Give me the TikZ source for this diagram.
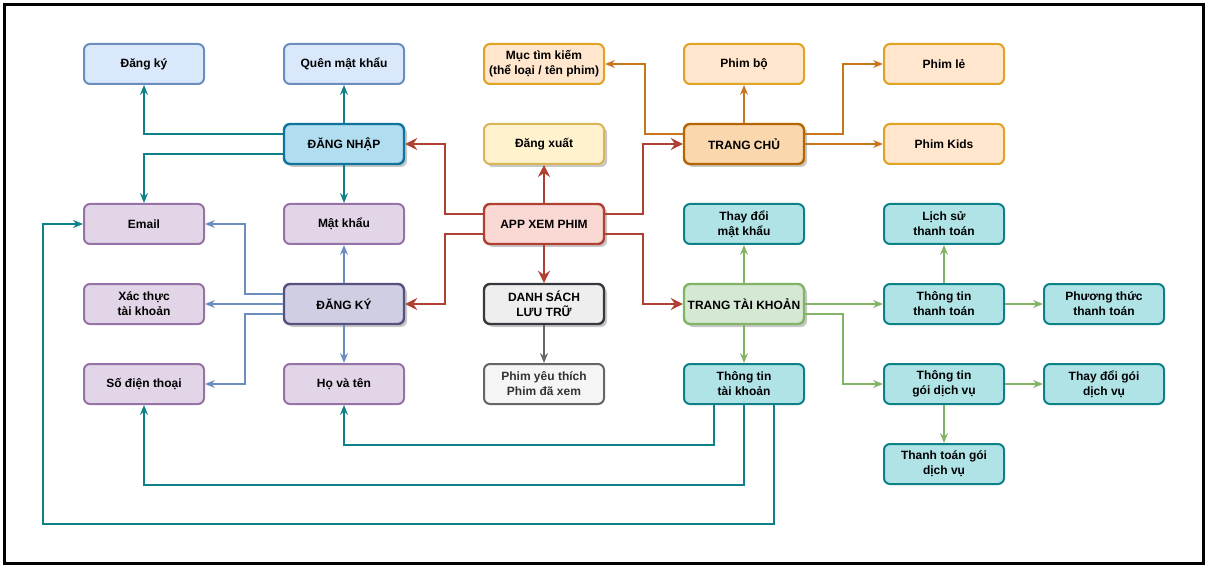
\documentclass[tikz,border=0pt]{standalone}
\usepackage{fontspec}
\setmainfont{Liberation Sans}
\usetikzlibrary{arrows.meta,calc,shadows}

% node palette
\definecolor{blueF}{HTML}{DAE8FC}\definecolor{blueS}{HTML}{6C8EBF}
\definecolor{orgF}{HTML}{FFE6CC}\definecolor{orgS}{HTML}{E0A422}
\definecolor{loginF}{HTML}{B1DDF0}\definecolor{loginS}{HTML}{10739E}
\definecolor{yelF}{HTML}{FFF2CC}\definecolor{yelS}{HTML}{D6B656}
\definecolor{homeF}{HTML}{FAD7AC}\definecolor{homeS}{HTML}{B46504}
\definecolor{purF}{HTML}{E1D5E7}\definecolor{purS}{HTML}{9673A6}
\definecolor{appF}{HTML}{FAD9D5}\definecolor{appS}{HTML}{AE4132}
\definecolor{tealF}{HTML}{B0E3E6}\definecolor{tealS}{HTML}{0E8088}
\definecolor{regF}{HTML}{D0CEE2}\definecolor{regS}{HTML}{56517E}
\definecolor{listF}{HTML}{EEEEEE}\definecolor{listS}{HTML}{36393D}
\definecolor{accF}{HTML}{D5E8D4}\definecolor{accS}{HTML}{82B366}
\definecolor{favF}{HTML}{F5F5F5}\definecolor{favS}{HTML}{666666}
\definecolor{favT}{HTML}{333333}
% connector palette
\definecolor{eTeal}{HTML}{0E8088}
\definecolor{eBlue}{HTML}{6C8EBF}
\definecolor{eGreen}{HTML}{82B366}
\definecolor{eOrange}{HTML}{C8761A}
\definecolor{eRed}{HTML}{AE4132}
\definecolor{eGray}{HTML}{666666}

\tikzset{
  box/.style={draw, rounded corners=6pt, minimum width=120pt, minimum height=40pt,
    inner sep=0pt, line width=2pt, align=center,
    font=\bfseries\fontsize{12}{15}\selectfont},
  mainbox/.style={box, line width=2.4pt,
    drop shadow={shadow xshift=3pt, shadow yshift=-3pt, fill=black, opacity=0.22}},
  bluebox/.style={box, fill=blueF, draw=blueS},
  orgbox/.style={box, fill=orgF, draw=orgS},
  purbox/.style={box, fill=purF, draw=purS},
  tealbox/.style={box, fill=tealF, draw=tealS},
  link/.style={line width=2pt, -{Stealth[length=10pt,width=8pt,inset=3.5pt]}},
  redlink/.style={line width=2.4pt, draw=eRed, -{Stealth[length=12pt,width=12pt,inset=4pt]}},
}

\begin{document}
\begin{tikzpicture}[x=1pt, y=-1pt]
\useasboundingbox (0,0) rectangle (1209,569);
\draw[line width=3pt] (4.5,4.5) rectangle (1203.5,563.5);

% row 1
\node[bluebox] (dk)  at (144,64) {Đăng ký};
\node[bluebox] (qmk) at (344,64) {Quên mật khẩu};
\node[orgbox]  (mtk) at (544,64) {Mục tìm kiếm\\(thể loại / tên phim)};
\node[orgbox]  (pb)  at (744,64) {Phim bộ};
\node[orgbox]  (pl)  at (944,64) {Phim lẻ};
% row 2
\node[mainbox, fill=loginF, draw=loginS] (dn) at (344,144) {ĐĂNG NHẬP};
\node[mainbox, fill=yelF, draw=yelS, line width=2pt] (dx) at (544,144) {Đăng xuất};
\node[mainbox, fill=homeF, draw=homeS] (tc) at (744,144) {TRANG CHỦ};
\node[orgbox] (pk) at (944,144) {Phim Kids};
% row 3
\node[purbox] (email) at (144,224) {Email};
\node[purbox] (mk)    at (344,224) {Mật khẩu};
\node[mainbox, fill=appF, draw=appS] (app) at (544,224) {APP XEM PHIM};
\node[tealbox] (tdmk) at (744,224) {Thay đổi\\mật khẩu};
\node[tealbox] (ls)   at (944,224) {Lịch sử\\thanh toán};
% row 4
\node[purbox] (xt) at (144,304) {Xác thực\\tài khoản};
\node[mainbox, fill=regF, draw=regS] (dky) at (344,304) {ĐĂNG KÝ};
\node[mainbox, fill=listF, draw=listS] (ds) at (544,304) {DANH SÁCH\\LƯU TRỮ};
\node[mainbox, fill=accF, draw=accS] (tk) at (744,304) {TRANG TÀI KHOẢN};
\node[tealbox] (tttt) at (944,304) {Thông tin\\thanh toán};
\node[tealbox] (ptt)  at (1104,304) {Phương thức\\thanh toán};
% row 5
\node[purbox] (sdt) at (144,384) {Số điện thoại};
\node[purbox] (hvt) at (344,384) {Họ và tên};
\node[box, fill=favF, draw=favS, text=favT] (fav) at (544,384) {Phim yêu thích\\Phim đã xem};
\node[tealbox] (ttk)   at (744,384) {Thông tin\\tài khoản};
\node[tealbox] (ttgdv) at (944,384) {Thông tin\\gói dịch vụ};
\node[tealbox] (tdg)   at (1104,384) {Thay đổi gói\\dịch vụ};
% row 6
\node[tealbox] (tgdv) at (944,464) {Thanh toán gói\\dịch vụ};

% from ĐĂNG NHẬP
\begin{scope}[link, draw=eTeal]
  \draw ($(dn.west)+(0,-10)$) -| (dk.south);
  \draw ($(dn.west)+(0,10)$) -| (email.north);
  \draw (dn.north) -- (qmk.south);
  \draw (dn.south) -- (mk.north);
\end{scope}

% from APP XEM PHIM
\draw[redlink] ($(app.west)+(0,-10)$) -| ($(dn.east)+(40,0)$) -- (dn.east);
\draw[redlink] ($(app.west)+(0,10)$) -| ($(dky.east)+(40,0)$) -- (dky.east);
\draw[redlink] ($(app.east)+(0,-10)$) -| ($(tc.west)+(-40,0)$) -- (tc.west);
\draw[redlink] ($(app.east)+(0,10)$) -| ($(tk.west)+(-40,0)$) -- (tk.west);
\draw[redlink] (app.north) -- (dx.south);
\draw[redlink] (app.south) -- (ds.north);

% from TRANG CHỦ
\begin{scope}[link, draw=eOrange]
  \draw ($(tc.west)+(0,-10)$) -| ($(mtk.east)+(40,0)$) -- (mtk.east);
  \draw (tc.north) -- (pb.south);
  \draw ($(tc.east)+(0,-10)$) -| ($(pl.west)+(-40,0)$) -- (pl.west);
  \draw (tc.east) -- (pk.west);
\end{scope}

% from ĐĂNG KÝ
\begin{scope}[link, draw=eBlue]
  \draw ($(dky.west)+(0,-10)$) -| ($(email.east)+(40,0)$) -- (email.east);
  \draw (dky.west) -- (xt.east);
  \draw ($(dky.west)+(0,10)$) -| ($(sdt.east)+(40,0)$) -- (sdt.east);
  \draw (dky.north) -- (mk.south);
  \draw (dky.south) -- (hvt.north);
\end{scope}

% DANH SÁCH LƯU TRỮ
\draw[link, draw=eGray] (ds.south) -- (fav.north);

% from TRANG TÀI KHOẢN
\begin{scope}[link, draw=eGreen]
  \draw (tk.north) -- (tdmk.south);
  \draw (tk.south) -- (ttk.north);
  \draw (tk.east) -- (tttt.west);
  \draw ($(tk.east)+(0,10)$) -| ($(ttgdv.west)+(-40,0)$) -- (ttgdv.west);
  \draw (tttt.north) -- (ls.south);
  \draw (tttt.east) -- (ptt.west);
  \draw (ttgdv.east) -- (tdg.west);
  \draw (ttgdv.south) -- (tgdv.north);
\end{scope}

% from Thông tin tài khoản back to the sign-up fields
\begin{scope}[link, draw=eTeal]
  \draw ($(ttk.south)+(-30,0)$) |- ($(hvt.south)+(0,40)$) -- (hvt.south);
  \draw (ttk.south) |- ($(sdt.south)+(0,80)$) -- (sdt.south);
  \draw ($(ttk.south)+(30,0)$) |- ($(email.west)+(-40,300)$) |- (email.west);
\end{scope}
\end{tikzpicture}
\end{document}
